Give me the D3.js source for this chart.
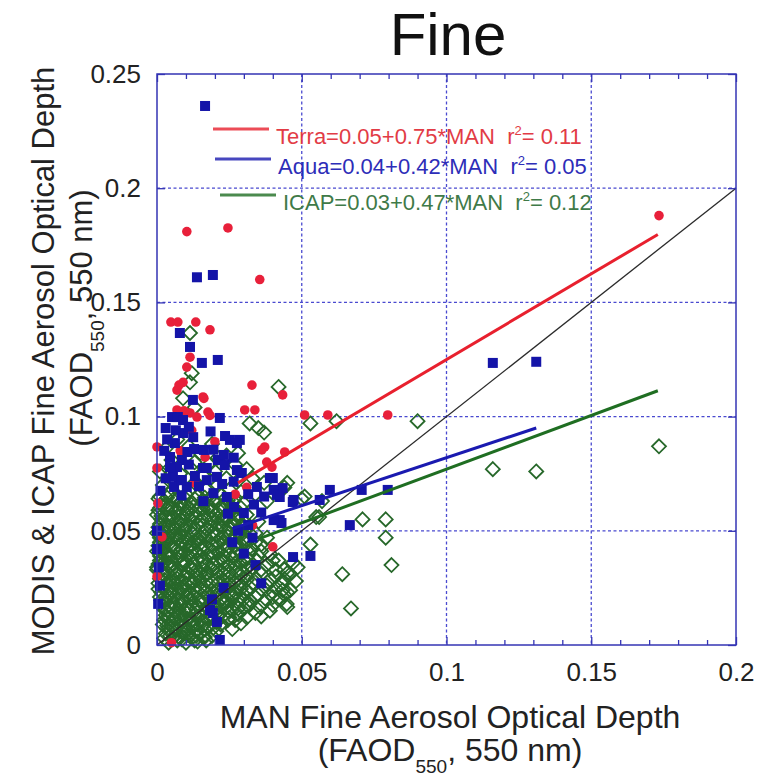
<!DOCTYPE html>
<meta charset="utf-8">
<title>Fine</title>
<style>
body { margin: 0; background: #fff; font-family: 'Liberation Sans', Arial, sans-serif; }
svg { display: block; }
.axis text { font-size: 26px; fill: #222; font-family: 'Liberation Sans', Arial, sans-serif; }
.axis path, .axis line { stroke: #3434b4; stroke-width: 1.3; }
.grid line { stroke: #4a4ad0; stroke-dasharray: 3,2.5; stroke-width: 1.3; }
.lab { fill: #222; }
.leg { font-size: 22px; white-space: pre; }
</style>
<svg width="758" height="783"></svg>
<script src="https://cdn.jsdelivr.net/npm/d3@7"></script>
<script>

// ---- data ----
var xTicks = [0, 0.05, 0.1, 0.15, 0.2];
var yTicks = [0, 0.05, 0.1, 0.15, 0.2, 0.25];
var xTickLabels = ["0", "0.05", "0.1", "0.15", "0.2"];
var yTickLabels = ["0", "0.05", "0.1", "0.15", "0.2", "0.25"];
var xMinor = [0.01,0.02,0.03,0.04,0.06,0.07,0.08,0.09,0.11,0.12,0.13,0.14,0.16,0.17,0.18,0.19];

// Terra (red dots) [MAN, Terra]
var terra = [
  [0.1734,0.188],[0.0103,0.181],[0.0245,0.1826],[0.0355,0.160],
  [0.0048,0.1414],[0.0072,0.1414],[0.0134,0.1414],[0.0183,0.138],
  [0.0114,0.126],[0.0103,0.1217],[0.0069,0.1116],[0.009,0.115],[0.0076,0.1138],[0.0159,0.1086],[0.0162,0.108],
  [0.0328,0.1138],[0.0434,0.1095],
  [0.0069,0.1029],[0.0114,0.1016],[0.0093,0.1025],[0.0138,0.0998],[0.0176,0.102],[0.0183,0.1005],
  [0.0303,0.1029],[0.0338,0.1029],[0.051,0.1007],[0.059,0.1007],[0.0797,0.1007],
  [0.0372,0.0867],[0.0441,0.0845],[0.0379,0.0801],[0.0397,0.0779],[0.0362,0.0854],
  [0.0166,0.0823],[0.013,0.071],[0.031,0.069],[0.0003,0.062],[0.0017,0.0473],[0.0,0.0867],[0.0,0.0775],
  [0.005,0.001],[0.033,0.0525],[0.040,0.043],[0.012,0.094],[0.02,0.089],[0.008,0.085],[0.027,0.066],[0.0,0.03]
];

// Aqua (blue squares) [MAN, Aqua]
var aqua = [
  [0.0166,0.236],[0.0138,0.161],[0.0193,0.162],[0.116,0.1235],[0.131,0.124],
  [0.0079,0.1366],[0.0114,0.1305],[0.0155,0.1235],[0.021,0.1248],
  [0.0124,0.1073],[0.0052,0.0998],[0.0072,0.0998],[0.0090,0.0985],[0.0217,0.0994],
  [0.009,0.0928],[0.0062,0.0884],[0.0252,0.0898],[0.0286,0.0898],[0.0276,0.0884],
  [0.0045,0.0823],[0.0086,0.081],[0.0159,0.0775],[0.021,0.081],[0.0234,0.0788],[0.0128,0.0858],
  [0.0290,0.0753],[0.040,0.0731],[0.0434,0.0687],[0.0469,0.0626],[0.0562,0.0635],[0.0597,0.0679],
  [0.0707,0.0679],[0.0797,0.0679],[0.0666,0.0525],[0.053,0.039],[0.0424,0.0547],[0.047,0.0385],
  [0.0430,0.0534],[0.0424,0.0648],[0.0207,0.0101],[0.0217,0.0022],[0.0193,0.014],[0.0183,0.0153],
  [0.0069,0.0779],[0.0055,0.0736],[0.0131,0.0740],[0.0172,0.0775],[0.0076,0.0722],
  [0.0162,0.0854],[0.0231,0.0832],[0.0276,0.0766],[0.0293,0.0753],[0.0345,0.0692],[0.039,0.0731],
  [0.0403,0.0679],[0.0414,0.0657],[0.0472,0.0635],[0.0403,0.0547],[0.0300,0.0578],[0.0241,0.0648],
  [0.0207,0.0736],[0.0172,0.0722],[0.0103,0.0692],[0.0059,0.0692],[0.0045,0.0779],[0.0086,0.0722],
  [0.0266,0.0604],[0.0,0.042],[0.0006,0.034],[0.0,0.05],[0.001,0.026],[0.0004,0.018],
  [0.019,0.02],[0.023,0.025],[0.03,0.04],[0.034,0.035],[0.036,0.027],[0.026,0.045],[0.033,0.047],
  [0.036,0.058],[0.028,0.05],
  [0.003,0.095],[0.0065,0.094],[0.011,0.0955],[0.0035,0.090],[0.0125,0.091],[0.0185,0.0935],
  [0.0235,0.0915],[0.0025,0.085],[0.0105,0.0845],[0.0195,0.0855],[0.0265,0.082],[0.003,0.073],
  [0.011,0.079],[0.0145,0.0695],[0.0195,0.0665],[0.0225,0.0705],[0.0265,0.0715],[0.0315,0.066],
  [0.0335,0.0615],[0.037,0.065],[0.0012,0.0675],[0.0085,0.0655],[0.016,0.063],[0.0245,0.0575],
  [0.0315,0.0525]
];

// ICAP (open green diamonds) [MAN, ICAP]
var icap = [
  [0.1734,0.087],[0.116,0.077],[0.131,0.076],[0.09,0.098],[0.062,0.098],[0.053,0.097],
  [0.071,0.055],[0.079,0.055],[0.079,0.047],[0.081,0.035],[0.064,0.031],[0.067,0.016],
  [0.044,0.069],[0.056,0.056],[0.05,0.064],[0.042,0.113],[0.032,0.097],[0.035,0.095],[0.037,0.093],
  [0.0114,0.1366],[0.012,0.119],[0.0114,0.115],[0.009,0.108],[0.013,0.104],[0.021,0.082],[0.028,0.084],
  [0.053,0.044],[0.057,0.063],[0.045,0.071],[0.0,0.034],[0.051,0.065],[0.055,0.056],[0.045,0.0315],
  [0.045,0.023],[0.045,0.0166],[0.0486,0.034],[0.047,0.036],[0.0434,0.024],[0.0448,0.018],
  [0.04,0.021],[0.0355,0.0166],[0.032,0.0197],[0.016,0.0035],
  [0.003,0.086],[0.007,0.09],[0.011,0.087],[0.015,0.084],[0.019,0.088],[0.024,0.083],[0.005,0.081],
  [0.013,0.08],[0.018,0.079],[0.027,0.079],[0.031,0.077],
  [0.001,0.076],[0.004,0.077],[0.008,0.075],[0.012,0.077],[0.016,0.074],[0.020,0.076],[0.024,0.073],
  [0.028,0.072],[0.033,0.073],[0.037,0.071],
  [0.002,0.07],[0.005,0.071],[0.009,0.069],[0.013,0.071],[0.017,0.068],[0.021,0.07],[0.025,0.068],
  [0.029,0.067],[0.034,0.066],[0.038,0.063],
  [0.001,0.065],[0.004,0.066],[0.007,0.064],[0.010,0.066],[0.014,0.065],[0.018,0.064],[0.022,0.066],
  [0.026,0.063],[0.030,0.062],
  [0.002,0.061],[0.005,0.060],[0.008,0.062],[0.011,0.060],[0.015,0.061],[0.019,0.059],[0.023,0.061],
  [0.027,0.059],[0.031,0.057],[0.035,0.054],
  [0.000,0.057],[0.003,0.056],[0.006,0.058],[0.009,0.056],[0.012,0.057],[0.016,0.056],[0.020,0.057],
  [0.024,0.055],[0.028,0.056],[0.032,0.052],
  [0.001,0.053],[0.004,0.052],[0.007,0.054],[0.010,0.052],[0.014,0.053],[0.017,0.051],[0.021,0.053],
  [0.025,0.051],[0.029,0.052],[0.034,0.049],[0.038,0.047],
  [0.000,0.049],[0.002,0.047],[0.005,0.049],[0.008,0.048],[0.012,0.049],[0.015,0.047],[0.019,0.049],
  [0.023,0.047],[0.027,0.048],[0.031,0.046],[0.036,0.044],
  [0.001,0.045],[0.004,0.044],[0.007,0.046],[0.010,0.044],[0.013,0.045],[0.017,0.043],[0.021,0.045],
  [0.025,0.043],[0.029,0.044],[0.033,0.042],[0.039,0.040],
  [0.000,0.041],[0.003,0.040],[0.006,0.042],[0.009,0.040],[0.012,0.041],[0.015,0.039],[0.019,0.041],
  [0.023,0.039],[0.027,0.040],[0.031,0.038],[0.035,0.039],[0.042,0.037],
  [0.001,0.037],[0.004,0.036],[0.007,0.038],[0.010,0.036],[0.014,0.037],[0.017,0.035],[0.021,0.037],
  [0.025,0.035],[0.029,0.036],[0.033,0.034],[0.038,0.035],[0.044,0.033],
  [0.000,0.033],[0.002,0.031],[0.005,0.033],[0.008,0.032],[0.012,0.033],[0.015,0.031],[0.019,0.033],
  [0.023,0.031],[0.027,0.032],[0.031,0.030],[0.036,0.031],[0.041,0.030],[0.046,0.031],
  [0.001,0.029],[0.004,0.028],[0.007,0.029],[0.010,0.027],[0.013,0.029],[0.017,0.028],[0.021,0.029],
  [0.025,0.027],[0.029,0.028],[0.033,0.027],[0.038,0.026],[0.043,0.027],[0.048,0.028],
  [0.002,0.025],[0.005,0.024],[0.008,0.025],[0.011,0.023],[0.015,0.025],[0.019,0.024],[0.023,0.025],
  [0.027,0.023],[0.031,0.024],[0.035,0.022],[0.040,0.023],[0.046,0.024],
  [0.001,0.021],[0.003,0.020],[0.006,0.021],[0.009,0.019],[0.013,0.021],[0.016,0.020],[0.020,0.021],
  [0.024,0.019],[0.028,0.020],[0.032,0.018],[0.037,0.019],[0.042,0.020],
  [0.002,0.017],[0.005,0.016],[0.008,0.017],[0.011,0.015],[0.014,0.017],[0.018,0.016],[0.022,0.017],
  [0.026,0.015],[0.030,0.016],[0.034,0.014],[0.039,0.015],
  [0.003,0.013],[0.006,0.012],[0.009,0.013],[0.012,0.011],[0.015,0.013],[0.019,0.012],[0.023,0.013],
  [0.027,0.011],[0.031,0.012],
  [0.002,0.009],[0.005,0.008],[0.008,0.009],[0.011,0.007],[0.014,0.009],[0.018,0.008],[0.022,0.009],
  [0.026,0.007],
  [0.003,0.005],[0.006,0.004],[0.009,0.005],[0.012,0.003],[0.015,0.005],[0.019,0.004],
  [0.004,0.001],[0.007,0.002],[0.010,0.001],[0.013,0.002],
  // dense core, second pass
  [0.0025,0.063],[0.0055,0.0635],[0.0085,0.063],[0.012,0.0625],[0.016,0.063],[0.0205,0.0625],[0.0245,0.0635],
  [0.0005,0.059],[0.0035,0.0595],[0.0065,0.059],[0.0105,0.0585],[0.0135,0.059],[0.0175,0.0595],
  [0.0215,0.059],[0.0255,0.0585],[0.029,0.060],
  [0.0015,0.055],[0.0055,0.0555],[0.0085,0.0545],[0.0115,0.055],[0.0155,0.0545],[0.019,0.055],
  [0.0225,0.0555],[0.0265,0.0535],[0.030,0.054],
  [0.0025,0.0505],[0.006,0.051],[0.0095,0.0505],[0.013,0.051],[0.0165,0.0495],[0.0205,0.051],
  [0.0245,0.0495],[0.028,0.050],[0.032,0.049],
  [0.001,0.047],[0.0035,0.0465],[0.0065,0.0475],[0.0105,0.0465],[0.014,0.047],[0.018,0.0455],
  [0.022,0.047],[0.026,0.0455],[0.030,0.0465],[0.034,0.045],
  [0.002,0.0425],[0.005,0.043],[0.0085,0.042],[0.0115,0.043],[0.0155,0.0415],[0.0195,0.043],
  [0.0235,0.0415],[0.0275,0.042],[0.031,0.0415],[0.036,0.041],
  [0.001,0.039],[0.0045,0.0385],[0.008,0.039],[0.0115,0.0385],[0.0155,0.0375],[0.0195,0.039],
  [0.0225,0.0375],[0.0265,0.038],[0.030,0.0375],[0.0345,0.037],[0.040,0.037],
  [0.0015,0.035],[0.0045,0.0345],[0.0085,0.0355],[0.0115,0.0345],[0.0155,0.0335],[0.0195,0.035],
  [0.0235,0.0335],[0.027,0.034],[0.031,0.0335],[0.036,0.033],[0.041,0.033],
  [0.0025,0.0305],[0.0065,0.031],[0.0095,0.0295],[0.0135,0.031],[0.017,0.0305],[0.021,0.031],
  [0.025,0.0295],[0.029,0.0305],[0.034,0.029],[0.039,0.0285],[0.044,0.029],
  [0.0005,0.027],[0.0035,0.0265],[0.0065,0.027],[0.0095,0.0255],[0.0125,0.027],[0.017,0.026],
  [0.021,0.027],[0.025,0.0255],[0.029,0.026],[0.036,0.0245],[0.041,0.025],
  [0.0015,0.023],[0.0045,0.0225],[0.0075,0.023],[0.0105,0.021],[0.0135,0.023],[0.0175,0.022],
  [0.0215,0.023],[0.026,0.0215],[0.030,0.022],[0.034,0.021],[0.044,0.022],
  [0.0025,0.019],[0.0055,0.0185],[0.0085,0.0195],[0.012,0.018],[0.015,0.019],[0.0195,0.018],
  [0.023,0.019],[0.027,0.0175],[0.031,0.0175],[0.040,0.0175],
  [0.0035,0.015],[0.0065,0.0145],[0.0095,0.015],[0.013,0.0135],[0.0165,0.015],[0.0205,0.014],
  [0.0245,0.015],[0.028,0.0135],[0.036,0.0125],
  [0.0025,0.011],[0.0055,0.0105],[0.0085,0.011],[0.0125,0.0095],[0.016,0.0105],[0.0205,0.010],
  [0.0245,0.011],[0.029,0.0095],
  [0.0035,0.007],[0.0065,0.0065],[0.0095,0.007],[0.0135,0.006],[0.0165,0.007],[0.0205,0.006],
  [0.0025,0.003],[0.0055,0.003],[0.0085,0.0025],[0.0115,0.004],[0.014,0.0015],[0.017,0.002],
  // dense core, third pass
  [0.0005,0.064],[0.0035,0.0645],[0.0065,0.0635],[0.0095,0.0645],[0.013,0.064],[0.0165,0.0645],
  [0.0195,0.0635],[0.0235,0.064],[0.027,0.0645],
  [0.001,0.060],[0.004,0.0605],[0.0075,0.060],[0.0095,0.0615],[0.0125,0.0605],[0.016,0.0595],
  [0.0185,0.0605],[0.0225,0.060],[0.026,0.0605],
  [0.0015,0.0565],[0.0045,0.0555],[0.0075,0.056],[0.0105,0.0565],[0.0135,0.0555],[0.0175,0.0565],
  [0.021,0.0555],[0.0235,0.0565],[0.027,0.0555],
  [0.0005,0.0515],[0.003,0.0525],[0.0055,0.0515],[0.0085,0.0525],[0.0115,0.0515],[0.0155,0.0525],
  [0.0185,0.0515],[0.0225,0.052],[0.0265,0.0525],[0.030,0.0515],
  [0.0015,0.0485],[0.004,0.0475],[0.0065,0.0485],[0.0095,0.0475],[0.0125,0.0485],[0.0165,0.0475],
  [0.0205,0.0485],[0.0245,0.0475],[0.0285,0.0485],
  [0.0005,0.0435],[0.0025,0.0445],[0.0055,0.0435],[0.0085,0.0445],[0.0115,0.0435],[0.015,0.0445],
  [0.019,0.0435],[0.023,0.0445],[0.027,0.0435],[0.031,0.0445],
  [0.0015,0.0405],[0.0045,0.0395],[0.0075,0.0405],[0.0105,0.0395],[0.0135,0.0405],[0.0175,0.0395],
  [0.021,0.0405],[0.025,0.0395],[0.029,0.0405],
  [0.0005,0.0355],[0.0025,0.0365],[0.0055,0.0355],[0.009,0.0365],[0.0125,0.0355],[0.016,0.0365],
  [0.0195,0.0355],[0.023,0.0365],[0.027,0.0355],[0.031,0.036],
  [0.0015,0.0325],[0.0035,0.0315],[0.0065,0.0325],[0.0105,0.0315],[0.0135,0.0325],[0.017,0.0315],
  [0.021,0.0325],[0.025,0.0315],[0.029,0.0325],
  [0.0025,0.0285],[0.0055,0.0275],[0.0085,0.0285],[0.0115,0.0275],[0.015,0.0285],[0.019,0.0275],
  [0.023,0.0285],[0.027,0.0275],[0.031,0.0285],
  [0.0005,0.0245],[0.0035,0.0235],[0.0065,0.0245],[0.0095,0.0235],[0.0125,0.0245],[0.017,0.0235],
  [0.021,0.0245],[0.025,0.0235],[0.029,0.0245],
  [0.0015,0.0195],[0.0045,0.0205],[0.0075,0.0195],[0.0115,0.0205],[0.0145,0.0195],[0.018,0.0205],
  [0.022,0.0195],[0.026,0.0205],[0.030,0.020],
  [0.0025,0.0155],[0.0045,0.0165],[0.0075,0.0155],[0.0105,0.0165],[0.0135,0.0155],[0.017,0.0165],
  [0.0205,0.0155],[0.024,0.0165],[0.028,0.016],
  [0.0035,0.0115],[0.0075,0.0125],[0.0105,0.0115],[0.014,0.012],[0.0175,0.0115],[0.021,0.0125],[0.025,0.012],
  [0.0035,0.0085],[0.0065,0.0075],[0.0095,0.0085],[0.0125,0.008],[0.016,0.0085],[0.0195,0.0075],
  [0.0045,0.004],[0.0075,0.0035],[0.0105,0.0045],[0.0135,0.004],[0.0165,0.0035]
];

// regression fits: Y = a + b * MAN, drawn over the visible MAN range
var fitNames = ["Terra", "Aqua", "ICAP"];
var fitA = [0.05, 0.04, 0.03];
var fitB = [0.75, 0.42, 0.47];
var fitR2 = ["0.11", "0.05", "0.12"];
var fitFrom = [0.028, 0.026, 0.036];
var fitTo = [0.173, 0.131, 0.173];
var fitColors = ["#e8202e", "#1a1ab0", "#1f6e22"];
var legendText = ["#e23b45", "#2d2db8", "#3f7a48"];

var svg = d3.select("svg"),
    margin = {left: 157, top: 74, right: 22, bottom: 138},
    width = +svg.attr("width") - margin.left - margin.right,
    height = +svg.attr("height") - margin.top - margin.bottom;

var x = d3.scaleLinear().domain([0, 0.2]).range([0, width]);
var y = d3.scaleLinear().domain([0, 0.25]).range([height, 0]);

var g = svg.append("g").attr("transform", "translate(" + margin.left + "," + margin.top + ")");

// grid
var grid = g.append("g").attr("class", "grid");
grid.selectAll(".gx").data(xTicks.slice(1, -1)).enter().append("line")
  .attr("x1", d => x(d)).attr("x2", d => x(d)).attr("y1", 0).attr("y2", height);
grid.selectAll(".gy").data(yTicks.slice(1, -1)).enter().append("line")
  .attr("x1", 0).attr("x2", width).attr("y1", d => y(d)).attr("y2", d => y(d));

// ICAP diamonds
var dm = 7;
g.append("g").selectAll("path").data(icap).enter().append("path")
  .attr("d", "M0," + (-dm) + "L" + dm + ",0L0," + dm + "L" + (-dm) + ",0Z")
  .attr("transform", d => "translate(" + x(d[0]) + "," + y(d[1]) + ")")
  .attr("fill", "none").attr("stroke", "#27682a").attr("stroke-width", 1.8);

// Terra dots
g.append("g").selectAll("circle").data(terra).enter().append("circle")
  .attr("cx", d => x(d[0])).attr("cy", d => y(d[1])).attr("r", 4.8)
  .attr("fill", "#e8203a");

// Aqua squares
var sq = 10;
g.append("g").selectAll("rect").data(aqua).enter().append("rect")
  .attr("x", d => x(d[0]) - sq / 2).attr("y", d => y(d[1]) - sq / 2)
  .attr("width", sq).attr("height", sq).attr("fill", "#1414a8");

// 1:1 line
g.append("line")
  .attr("x1", x(0)).attr("y1", y(0)).attr("x2", x(0.2)).attr("y2", y(0.2))
  .attr("stroke", "#2a2a2a").attr("stroke-width", 1.3);

// fit lines
fitNames.forEach(function(n, i) {
  g.append("line")
    .attr("x1", x(fitFrom[i])).attr("y1", y(fitA[i] + fitB[i] * fitFrom[i]))
    .attr("x2", x(fitTo[i])).attr("y2", y(fitA[i] + fitB[i] * fitTo[i]))
    .attr("stroke", fitColors[i]).attr("stroke-width", 3);
});

// axes (ticks point inward)
g.append("g").attr("class", "axis").attr("transform", "translate(0," + height + ")")
  .call(d3.axisBottom(x).tickValues(xTicks).tickSize(-8).tickPadding(18)
    .tickFormat((d, i) => xTickLabels[i]));
g.append("g").attr("class", "axis").attr("transform", "translate(0," + height + ")")
  .call(d3.axisBottom(x).tickValues(xMinor).tickSize(-5).tickFormat(""));
g.append("g").attr("class", "axis")
  .call(d3.axisTop(x).tickValues(xTicks).tickSize(-8).tickFormat(""));
g.append("g").attr("class", "axis")
  .call(d3.axisTop(x).tickValues(xMinor).tickSize(-5).tickFormat(""));
g.append("g").attr("class", "axis")
  .call(d3.axisLeft(y).tickValues(yTicks).tickSize(-8).tickPadding(16)
    .tickFormat((d, i) => yTickLabels[i]));
g.append("g").attr("class", "axis").attr("transform", "translate(" + width + ",0)")
  .call(d3.axisRight(y).tickValues(yTicks).tickSize(-8).tickFormat(""));
g.selectAll(".axis .domain").remove();
g.append("rect").attr("width", width).attr("height", height)
  .attr("fill", "none").attr("stroke", "#3434b4").attr("stroke-width", 1.5);

// legend
var legY = [129, 159, 195];
var legX = [213, 215, 220];
fitNames.forEach(function(n, i) {
  svg.append("line")
    .attr("x1", legX[i]).attr("x2", legX[i] + 56).attr("y1", legY[i]).attr("y2", legY[i])
    .attr("stroke", fitColors[i]).attr("stroke-width", 3).attr("opacity", 0.8);
  var t = svg.append("text").attr("class", "leg")
    .attr("x", legX[i] + 63).attr("y", legY[i] + 15).attr("fill", legendText[i]);
  t.append("tspan").text(n + "=" + fitA[i].toFixed(2) + "+" + fitB[i].toFixed(2) + "*MAN  r");
  t.append("tspan").attr("dy", -9).attr("font-size", 13).text("2");
  t.append("tspan").attr("dy", 9).text("= " + fitR2[i]);
});

// title
svg.append("text").attr("x", 448).attr("y", 55).attr("text-anchor", "middle")
  .attr("font-size", 60).attr("fill", "#111").text("Fine");

// x label
svg.append("text").attr("class", "lab").attr("font-size", 32).attr("x", 450).attr("y", 728)
  .attr("text-anchor", "middle").text("MAN Fine Aerosol Optical Depth");
var xl = svg.append("text").attr("class", "lab").attr("font-size", 32).attr("x", 450).attr("y", 761)
  .attr("text-anchor", "middle");
xl.append("tspan").text("(FAOD");
xl.append("tspan").attr("dy", 12).attr("font-size", 19).text("550");
xl.append("tspan").attr("dy", -12).text(", 550 nm)");

// y label
svg.append("text").attr("class", "lab").attr("font-size", 31)
  .attr("transform", "translate(54,361) rotate(-90)")
  .attr("text-anchor", "middle").text("MODIS & ICAP Fine Aerosol Optical Depth");
var yl = svg.append("text").attr("class", "lab").attr("font-size", 31)
  .attr("transform", "translate(92,318) rotate(-90)")
  .attr("text-anchor", "middle");
yl.append("tspan").text("(FAOD");
yl.append("tspan").attr("dy", 12).attr("font-size", 19).text("550");
yl.append("tspan").attr("dy", -12).text(", 550 nm)");

</script>
